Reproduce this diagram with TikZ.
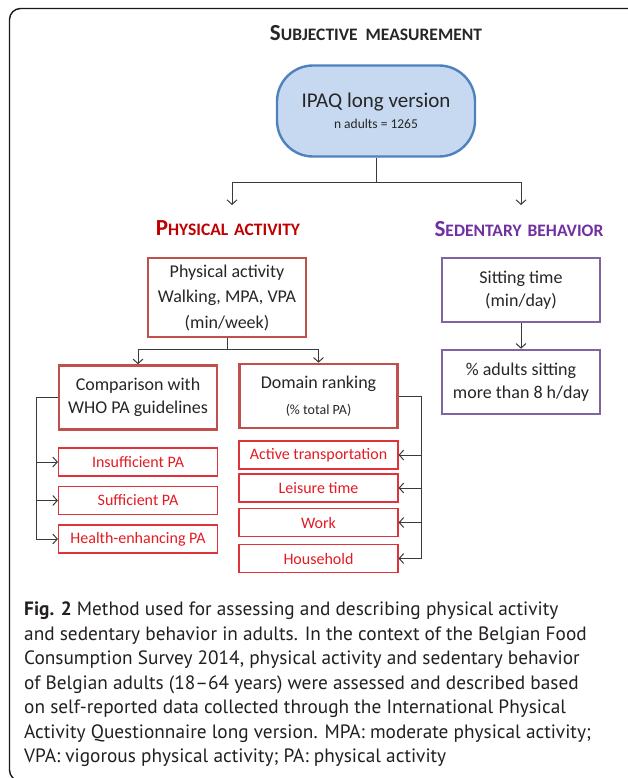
\documentclass[tikz,border=0pt]{standalone}
\usepackage{fontspec}
\setmainfont{Carlito}
\newfontfamily\capfont{PT Sans}
\usetikzlibrary{arrows.meta}
\definecolor{txt}{HTML}{262626}
\definecolor{linec}{HTML}{3A3A3A}
\definecolor{ipaqfill}{HTML}{C6D9F1}
\definecolor{ipaqdraw}{HTML}{4F81BD}
\definecolor{boxred}{HTML}{C0504D}
\definecolor{thinred}{HTML}{E0323A}
\definecolor{redtxt}{HTML}{E31B23}
\definecolor{pahead}{HTML}{C00000}
\definecolor{sbhead}{HTML}{7030A0}
\definecolor{boxpurple}{HTML}{8064A2}
\definecolor{captxt}{HTML}{231F20}
\newcommand{\fsz}[2]{\fontsize{#1}{#2}\selectfont}
\newcommand{\fakesc}[2]{{\fsz{23}{24}#1}{\fsz{17.5}{18}#2}}
\begin{document}
\begin{tikzpicture}[x=1pt,y=-1pt,
  bigbox/.style={draw=boxred, line width=2.6pt, minimum width=158pt, minimum height=64pt,
    text=txt, font=\fsz{18}{22.5}, align=center, inner sep=0pt},
  purplebox/.style={bigbox, draw=boxpurple},
  smallbox/.style={draw=thinred, line width=1.1pt, minimum width=159pt, minimum height=28pt,
    text=redtxt, font=\fsz{16}{18}, inner sep=0pt},
  heading/.style={font=\bfseries, inner sep=0pt},
  arr/.style={draw=linec, line width=1pt, -{Straight Barb[length=4.5pt,width=10pt]}},
  ln/.style={draw=linec, line width=1pt}]
\useasboundingbox (0,0) rectangle (627,778);
% frame
\draw[line width=1.4pt, draw=black!90, rounded corners=11pt] (640,8.5) -- (9.5,8.5) -- (9.5,781) -- (40,781);

% title
\node[heading, text=txt] (title) at (376,33) {\fakesc{S}{UBJECTIVE\hspace{4pt} MEASUREMENT}};

% IPAQ
\node[draw=ipaqdraw, fill=ipaqfill, line width=2.4pt, rounded corners=36pt,
  minimum width=198pt, minimum height=91pt, align=center, inner sep=0pt, text=txt,
  font=\fsz{21}{21}]
  (ipaq) at (376,111) {IPAQ long version\\[0pt]{\fsz{13.5}{14}n adults = 1265}};

% headings
\node[heading, text=pahead] (pahead) at (228,228) {\fakesc{P}{HYSICAL\hspace{2pt} ACTIVITY}};
\node[heading, text=sbhead] (sbhead) at (519,229) {\fakesc{S}{EDENTARY\hspace{2pt} BEHAVIOR}};
\coordinate (aL) at (232,205);
\coordinate (aR) at (521,205);

\draw[ln] (ipaq.south) -- (376,182) coordinate (j1);
\draw[arr] (j1) -| (aL);
\draw[arr] (j1) -| (aR);

% PA branch
\node[bigbox, font=\fsz{18}{25.5}, minimum height=79pt] (pa) at (227,297.5)
  {Physical activity\\Walking, MPA, VPA\\(min/week)};
\node[bigbox] (cmp) at (138,397.5) {Comparison with\\WHO PA guidelines};
\node[bigbox] (dom) at (318.5,396) {Domain ranking\\[3pt]{\fsz{14}{16}(\% total PA)}};

\draw[ln] (pa.south) -- (227,349.5) coordinate (j2);
\draw[arr] (j2) -| (cmp.north);
\draw[arr] (j2) -| (dom.north);

\node[smallbox] (ins) at (138,462) {Insufficient PA};
\node[smallbox] (suf) at (138,500.5) {Sufficient PA};
\node[smallbox] (hea) at (138,539) {Health-enhancing PA};

\node[smallbox] (act) at (318.5,455) {Active transportation};
\node[smallbox] (lei) at (318.5,488) {Leisure time};
\node[smallbox] (wor) at (318.5,522.5) {Work};
\node[smallbox] (hou) at (318.5,558.5) {Household};

\draw[ln] (cmp.west) -- (36,397.5) coordinate (bl);
\draw[arr] (bl) |- (ins.west);
\draw[arr] (bl) |- (suf.west);
\draw[arr] (bl) |- (hea.west);

\draw[ln] (dom.east) -- (421.5,396) coordinate (br);
\draw[arr] (br) |- (act.east);
\draw[arr] (br) |- (lei.east);
\draw[arr] (br) |- (wor.east);
\draw[arr] (br) |- (hou.east);

% SB branch
\node[purplebox] (sit) at (521,290) {Sitting time\\(min/day)};
\node[purplebox] (pct) at (521,382) {\% adults sitting\\more than 8 h/day};
\draw[arr] (sit.south) -- (pct.north);

% caption
\node[anchor=north west, align=left, inner sep=0pt, text=captxt,
  font=\capfont\fsz{19.3}{24.5}] (caption) at (24,602)
{\textbf{Fig. 2} Method used for assessing and describing physical activity\\
and sedentary behavior in adults. In the context of the Belgian Food\\
Consumption Survey 2014, physical activity and sedentary behavior\\
of Belgian adults (18–64 years) were assessed and described based\\
on self-reported data collected through the International Physical\\
Activity Questionnaire long version. MPA: moderate physical activity;\\
VPA: vigorous physical activity; PA: physical activity};
\end{tikzpicture}
\end{document}
